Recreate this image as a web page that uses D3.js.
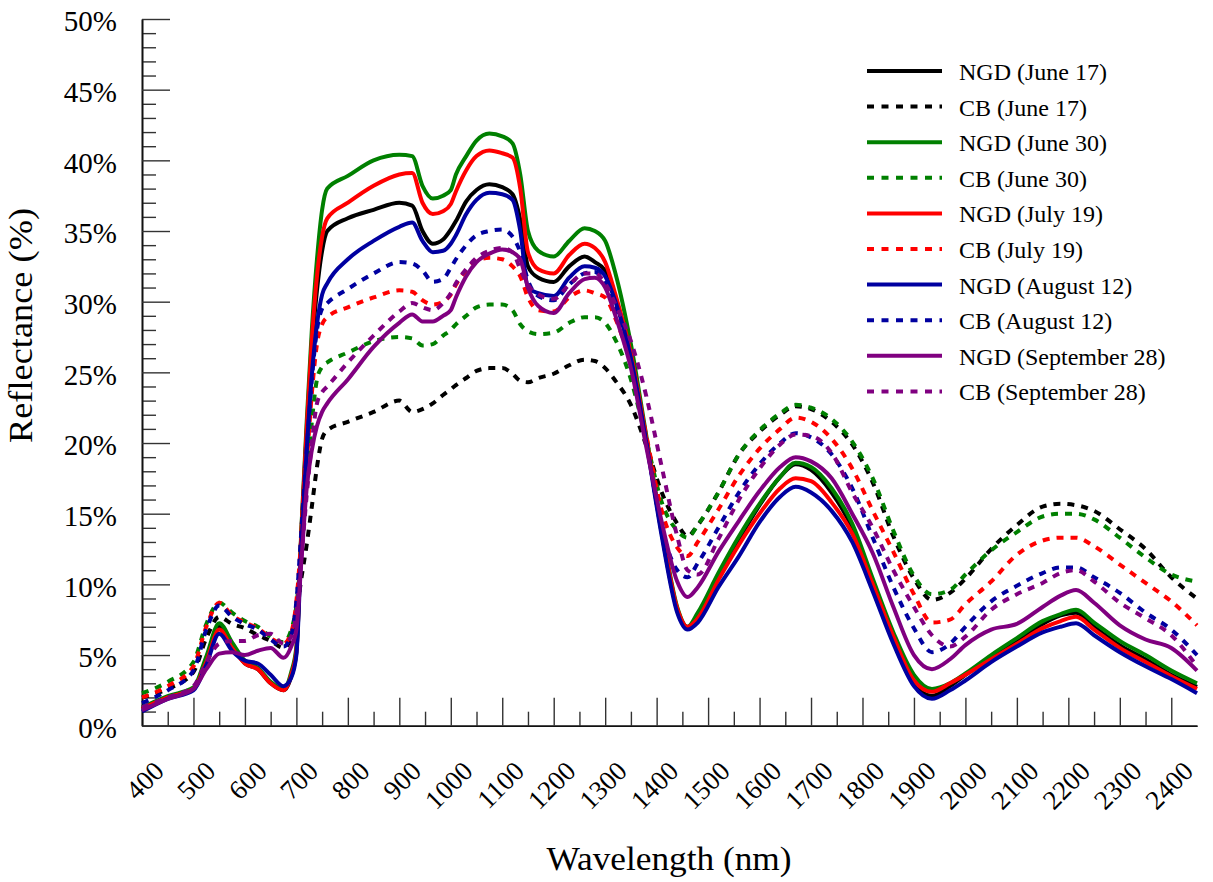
<!DOCTYPE html>
<html>
<head>
<meta charset="utf-8">
<script src="https://cdn.jsdelivr.net/npm/d3@7"></script>
<style>
  body { margin: 0; background: #fff; }
  svg { display: block; font-family: "Liberation Serif", "Times New Roman", serif; }
</style>
</head>
<body>
<svg id="chart"></svg>
<script>
// Wavelength grid (nm)
const wavelengths = [400, 450, 500, 525, 550, 575, 600, 625, 650, 675,
  690, 700, 710, 720, 730, 740, 750, 760,
  800, 850, 900, 925, 945, 965, 985, 1000, 1010, 1030,
  1050, 1075, 1100, 1120, 1135, 1150, 1170, 1200, 1230, 1260,
  1280, 1300, 1320, 1350, 1380, 1410, 1440, 1460, 1480, 1520,
  1560, 1600, 1640, 1670, 1700, 1740, 1780, 1820, 1860, 1900,
  1935, 1970, 2000, 2050, 2100, 2150, 2185, 2215, 2250, 2300,
  2350, 2400, 2450];

// Reflectance (%) per series
const ngdJune17 = [1.2, 2.0, 2.6, 4.6, 7.0, 5.7, 4.4, 4.0, 3.0, 2.5,
  3.5, 5.2, 13.8, 20.7, 26.6, 30.8, 33.6, 35.0,
  35.9, 36.5, 37.0, 36.8, 35.0, 34.1, 34.4, 35.1, 35.7, 37.1,
  37.9, 38.3, 38.1, 37.6, 35.8, 32.5, 31.7, 31.4, 32.5, 33.2,
  32.8, 32.2, 30.2, 26.2, 20.2, 13.6, 8.2, 6.9, 7.7, 10.6,
  13.2, 15.6, 17.6, 18.5, 18.1, 16.5, 14.0, 10.2, 6.2, 3.0,
  2.1, 2.8, 3.6, 4.8, 6.0, 7.2, 7.8, 8.0, 7.0, 5.7,
  4.7, 3.6, 2.75];
const cbJune17 = [2.0, 2.6, 3.8, 6.2, 7.7, 7.2, 6.9, 6.4, 6.0, 5.5,
  6.2, 8.0, 10.5, 12.8, 15.5, 18.3, 20.3, 20.9,
  21.5, 22.2, 23.0, 22.2, 22.4, 22.8, 23.4, 23.8, 24.1, 24.6,
  25.1, 25.3, 25.3, 24.9, 24.4, 24.3, 24.6, 24.9, 25.5, 25.9,
  25.8, 25.3, 24.4, 22.7, 19.8, 16.5, 14.3, 13.4, 14.2, 16.5,
  19.2, 20.8, 22.0, 22.6, 22.4, 21.5, 19.9, 17.2, 13.4, 10.4,
  8.9, 9.4, 10.4, 12.5, 14.2, 15.5, 15.7, 15.6, 15.2, 13.9,
  12.5, 10.5, 9.0];
const ngdJune30 = [1.3, 2.1, 2.7, 4.9, 7.25, 5.9, 4.6, 4.1, 3.1, 2.6,
  3.8, 5.6, 14.2, 21.5, 28.0, 33.0, 36.5, 38.0,
  38.9, 40.0, 40.4, 40.3, 38.2, 37.3, 37.5, 37.9, 39.0, 40.3,
  41.4, 41.9, 41.7, 41.2, 39.0, 35.0, 33.6, 33.2, 34.3, 35.2,
  35.0, 34.3, 32.0, 27.0, 20.5, 14.0, 8.4, 7.0, 8.0, 10.8,
  13.4, 15.7, 17.6, 18.6, 18.3, 16.8, 14.3, 10.4, 6.6, 3.6,
  2.6, 3.0, 3.7, 5.0, 6.2, 7.4, 7.9, 8.2, 7.3, 6.0,
  5.0, 3.9, 3.0];
const cbJune30 = [2.3, 3.1, 4.5, 7.2, 8.7, 8.0, 7.4, 7.0, 6.3, 5.9,
  6.8, 8.5, 12.5, 17.0, 21.5, 24.5, 25.4, 25.7,
  26.4, 27.2, 27.5, 27.4, 26.9, 27.0, 27.6, 28.0, 28.4, 29.0,
  29.6, 29.8, 29.8, 29.4, 28.4, 27.9, 27.7, 27.8, 28.5, 28.9,
  28.9, 28.5, 27.3, 24.5, 20.2, 15.8, 13.8, 13.3, 14.2, 16.5,
  19.2, 20.9, 22.1, 22.7, 22.5, 21.7, 20.1, 17.5, 13.8, 10.6,
  9.3, 9.6, 10.7, 12.4, 13.7, 14.8, 15.0, 15.0, 14.6, 13.3,
  11.9, 10.7, 10.2];
const ngdJuly19 = [1.2, 2.0, 2.6, 4.5, 6.8, 5.5, 4.4, 4.0, 3.0, 2.5,
  3.6, 5.3, 14.0, 21.0, 27.3, 31.8, 34.6, 35.9,
  37.0, 38.2, 39.0, 39.1, 37.0, 36.2, 36.4, 36.9, 37.8, 39.3,
  40.3, 40.7, 40.5, 40.2, 38.0, 33.5, 32.3, 32.0, 33.3, 34.1,
  33.8, 32.8, 30.5, 26.3, 20.3, 13.8, 8.3, 7.0, 7.6, 10.3,
  12.8, 15.0, 16.8, 17.5, 17.3, 15.8, 13.6, 10.0, 6.3, 3.2,
  2.4, 3.0, 3.6, 4.7, 5.8, 6.9, 7.4, 7.7, 6.8, 5.5,
  4.5, 3.5, 2.6];
const cbJuly19 = [2.0, 2.8, 4.2, 7.0, 8.7, 7.8, 7.3, 6.9, 6.2, 5.8,
  6.6, 8.8, 13.5, 18.5, 23.5, 27.0, 28.4, 28.9,
  29.6, 30.3, 30.8, 30.7, 30.1, 29.8, 30.0, 30.5, 31.2, 32.2,
  32.9, 33.1, 33.0, 32.5, 31.8, 30.3, 29.4, 29.3, 30.3, 30.8,
  30.6, 30.3, 28.8, 25.5, 20.5, 15.2, 12.6, 12.0, 13.0, 15.3,
  17.7, 19.6, 21.0, 21.8, 21.5, 20.3, 18.2, 15.2, 12.3, 9.3,
  7.3, 7.5, 8.6, 10.2, 12.1, 13.1, 13.3, 13.3, 12.7, 11.4,
  10.1, 8.8, 7.1];
const ngdAugust12 = [1.0, 1.9, 2.5, 4.3, 6.5, 5.3, 4.6, 4.4, 3.6, 2.8,
  3.4, 5.0, 13.0, 19.5, 24.8, 28.4, 30.5, 31.3,
  33.0, 34.3, 35.3, 35.6, 34.3, 33.5, 33.6, 34.1, 34.7, 36.2,
  37.2, 37.7, 37.6, 37.2, 35.0, 31.0, 30.6, 30.4, 31.7, 32.5,
  32.4, 31.8, 30.0, 26.0, 20.0, 13.4, 8.0, 6.8, 7.3, 9.8,
  12.0, 14.4, 16.2, 16.9, 16.5, 15.2, 13.0, 9.5, 5.8, 2.8,
  1.9, 2.5, 3.2, 4.5, 5.6, 6.6, 7.0, 7.25, 6.4, 5.2,
  4.2, 3.3, 2.3];
const cbAugust12 = [1.6, 2.5, 3.9, 6.8, 8.5, 7.7, 7.2, 6.8, 6.1, 5.6,
  6.4, 8.8, 14.0, 19.5, 24.5, 28.0, 29.5, 29.9,
  30.9, 32.0, 32.8, 32.7, 32.2, 31.4, 31.6, 32.4, 33.0, 34.0,
  34.7, 35.0, 35.1, 34.6, 33.5, 31.5, 30.4, 30.1, 31.2, 32.0,
  32.1, 31.3, 29.5, 25.8, 20.0, 14.0, 11.0, 10.5, 11.5, 14.0,
  16.5, 18.5, 20.0, 20.7, 20.4, 19.2, 16.8, 13.3, 9.8, 6.9,
  5.2, 5.8, 7.0, 8.8, 9.9, 10.8, 11.2, 11.2, 10.5, 9.4,
  8.0, 6.8, 5.0];
const ngdSeptember28 = [1.1, 1.9, 2.6, 4.0, 5.1, 5.2, 5.0, 5.3, 5.5, 4.8,
  5.6, 6.8, 11.8, 16.8, 19.5, 21.2, 22.2, 22.8,
  24.5, 26.8, 28.5, 29.1, 28.6, 28.6, 29.0, 29.4, 30.3, 31.8,
  32.8, 33.4, 33.7, 33.5, 33.0, 31.0, 29.7, 29.2, 30.6, 31.6,
  31.7, 31.0, 29.0, 25.3, 19.7, 14.4, 10.2, 9.1, 9.8, 12.3,
  14.5, 16.6, 18.3, 19.0, 18.7, 17.5, 15.0, 12.2, 8.4, 5.0,
  4.0, 4.7, 5.7, 6.8, 7.2, 8.4, 9.2, 9.6, 8.7, 7.1,
  6.1, 5.5, 3.9];
const cbSeptember28 = [1.3, 2.0, 2.8, 4.5, 5.8, 6.0, 6.0, 6.4, 6.5, 5.8,
  6.3, 8.0, 12.0, 16.3, 20.0, 22.8, 23.6, 24.0,
  25.7, 27.6, 29.3, 29.9, 29.6, 29.4, 29.9, 30.6, 31.3, 32.3,
  33.1, 33.6, 33.8, 33.5, 32.3, 31.2, 30.5, 30.2, 31.2, 32.0,
  32.0, 31.3, 29.8, 27.2, 23.3, 18.3, 13.4, 11.0, 10.7, 13.2,
  16.0, 18.2, 19.9, 20.6, 20.5, 19.3, 16.5, 14.0, 11.0, 8.4,
  6.4, 5.6, 6.3, 8.2, 9.3, 10.1, 10.8, 11.0, 10.2, 8.7,
  7.6, 6.4, 4.2];

const seriesNames = ["NGD (June 17)", "CB (June 17)", "NGD (June 30)", "CB (June 30)",
  "NGD (July 19)", "CB (July 19)", "NGD (August 12)", "CB (August 12)",
  "NGD (September 28)", "CB (September 28)"];
const seriesValues = [ngdJune17, cbJune17, ngdJune30, cbJune30, ngdJuly19, cbJuly19,
  ngdAugust12, cbAugust12, ngdSeptember28, cbSeptember28];
const seriesColors = ["#000000", "#000000", "#008000", "#008000", "#ff0000", "#ff0000",
  "#0000a0", "#0000a0", "#800080", "#800080"];
const seriesDotted = [false, true, false, true, false, true, false, true, false, true];

const xTicks = d3.range(400, 2401, 100);
const yTicks = d3.range(0, 51, 5);

function drawChart() {
    const width = 1213;
    const height = 882;
    const left = 142, right = 1197, top = 19, bottom = 725.7;

    const svg = d3.select("#chart")
        .attr("width", width)
        .attr("height", height);

    const xScale = d3.scaleLinear().domain([400, 2450]).range([left, right]);
    const yScale = d3.scaleLinear().domain([0, 50]).range([bottom, top]);

    // Minor ticks
    svg.append("g")
        .attr("class", "axis")
        .attr("transform", `translate(0,${bottom})`)
        .call(d3.axisBottom(xScale).tickValues(d3.range(450, 2400, 100))
            .tickSizeInner(-14).tickSizeOuter(0).tickFormat(""));
    svg.append("g")
        .attr("class", "axis")
        .attr("transform", `translate(${left},0)`)
        .call(d3.axisLeft(yScale).tickValues(d3.range(0, 51, 1).filter(d => d % 5 !== 0))
            .tickSizeInner(-14).tickSizeOuter(0).tickFormat(""));

    // Major x axis
    const xAxis = svg.append("g")
        .attr("class", "axis")
        .attr("transform", `translate(0,${bottom})`)
        .call(d3.axisBottom(xScale).tickValues(xTicks)
            .tickSizeInner(-28).tickSizeOuter(0).tickFormat(d3.format("d")));
    xAxis.selectAll("text")
        .attr("x", 0)
        .attr("y", 0)
        .attr("dy", null)
        .attr("transform", "translate(23,47) rotate(-45)")
        .style("text-anchor", "end")
        .style("font-size", "27px");

    // Major y axis
    const yAxis = svg.append("g")
        .attr("class", "axis")
        .attr("transform", `translate(${left},0)`)
        .call(d3.axisLeft(yScale).tickValues(yTicks)
            .tickSizeInner(-28).tickSizeOuter(0).tickPadding(25)
            .tickFormat(d => d + "%"));
    yAxis.selectAll("text")
        .attr("dy", "0.41em")
        .style("font-size", "29px");

    svg.selectAll(".axis text")
        .attr("fill", "#000")
        .style("font-family", "'Liberation Serif', 'Times New Roman', serif");
    svg.selectAll(".axis .tick line")
        .attr("stroke", "#333")
        .attr("stroke-width", 1.4);
    svg.selectAll(".axis .domain")
        .attr("stroke", "#111")
        .attr("stroke-width", 1.6);

    // Lines
    const line = d3.line()
        .x((d, i) => xScale(wavelengths[i]))
        .y(d => yScale(d))
        .curve(d3.curveMonotoneX);

    svg.append("g")
        .selectAll("path")
        .data(seriesValues)
        .join("path")
        .attr("d", d => line(d))
        .attr("fill", "none")
        .attr("stroke", (d, i) => seriesColors[i])
        .attr("stroke-width", 4)
        .attr("stroke-linejoin", "round")
        .attr("stroke-dasharray", (d, i) => seriesDotted[i] ? "7,7" : null);

    // Legend
    const legend = svg.append("g")
        .attr("transform", "translate(867,71)");
    const rows = legend.selectAll("g")
        .data(seriesNames)
        .join("g")
        .attr("transform", (d, i) => `translate(0,${i * 35.6})`);
    rows.append("line")
        .attr("x1", 0)
        .attr("x2", 75)
        .attr("stroke", (d, i) => seriesColors[i])
        .attr("stroke-width", 4)
        .attr("stroke-dasharray", (d, i) => seriesDotted[i] ? "7,7.5" : null);
    rows.append("text")
        .attr("x", 92)
        .attr("y", 9)
        .style("font-size", "24px")
        .text(d => d);

    // Axis titles
    svg.append("text")
        .attr("x", 669)
        .attr("y", 870)
        .attr("text-anchor", "middle")
        .attr("textLength", 245)
        .attr("lengthAdjust", "spacingAndGlyphs")
        .style("font-size", "33px")
        .text("Wavelength (nm)");
    svg.append("text")
        .attr("transform", "translate(32,325.5) rotate(-90)")
        .attr("text-anchor", "middle")
        .attr("textLength", 235)
        .attr("lengthAdjust", "spacingAndGlyphs")
        .style("font-size", "33px")
        .text("Reflectance (%)");
}

drawChart();
</script>
</body>
</html>
